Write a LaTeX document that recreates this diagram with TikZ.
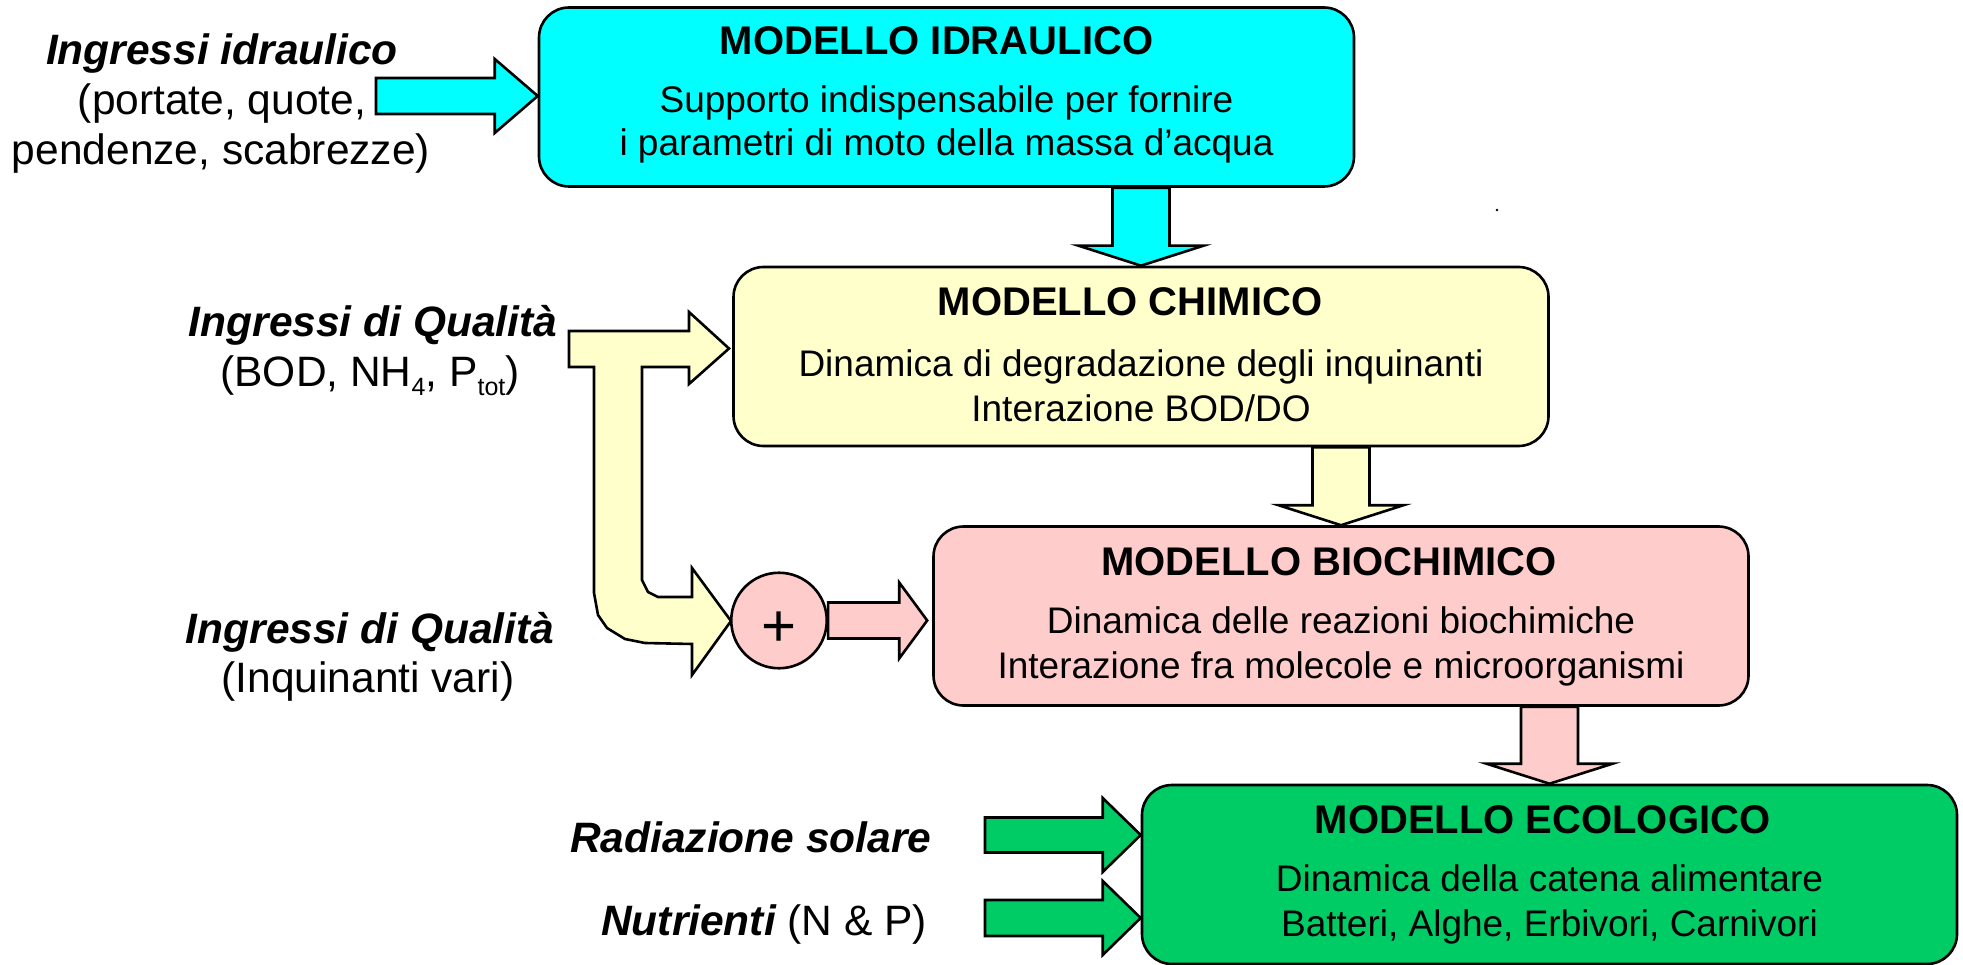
\documentclass[tikz,border=0pt]{standalone}
\usepackage{fontspec}
\setmainfont{Liberation Sans}
\usetikzlibrary{calc,backgrounds}
\definecolor{cyanc}{HTML}{00FFFF}
\definecolor{yelc}{HTML}{FFFFCC}
\definecolor{pinkc}{HTML}{FFCCCC}
\definecolor{greenc}{HTML}{00CC66}
\newcommand\lowsub[1]{\raisebox{-9pt}{\fontsize{25}{25}\selectfont #1}}
% block arrow pointing right: #1 style, #2 start, #3 tip, #4 shaft half, #5 head half, #6 head length
\newcommand\blkright[6]{%
  \draw[#1] let \p1=#2, \p2=#3 in
    (\x1,\y2+#4) -- (\x2-#6,\y2+#4) -- (\x2-#6,\y2+#5) -- (\x2,\y2)
    -- (\x2-#6,\y2-#5) -- (\x2-#6,\y2-#4) -- (\x1,\y2-#4) -- cycle;}
% block arrow pointing down: #2 start (top), #3 tip
\newcommand\blkdown[6]{%
  \draw[#1] let \p1=#2, \p2=#3 in
    (\x2-#4,\y1) -- (\x2-#4,\y2+#6) -- (\x2-#5,\y2+#6) -- (\x2,\y2)
    -- (\x2+#5,\y2+#6) -- (\x2+#4,\y2+#6) -- (\x2+#4,\y1) -- cycle;}
\tikzset{
  model/.style={draw=black, line width=2.6pt, rounded corners=30pt,
    minimum width=815pt, minimum height=179pt, inner sep=0pt},
  blk/.style={draw=black, line width=2.6pt, line join=miter},
  ttl/.style={inner sep=0pt, anchor=base, font=\fontsize{40}{48}\selectfont\bfseries},
  bdy/.style={inner sep=0pt, anchor=base, font=\fontsize{37}{44}\selectfont},
  lbl/.style={inner sep=0pt, anchor=base, font=\fontsize{42.5}{50}\selectfont},
  lblb/.style={lbl, font=\fontsize{42.5}{50}\selectfont\bfseries\itshape},
}
\begin{document}
\begin{tikzpicture}[x=1pt,y=-1pt]
\useasboundingbox (0,0) rectangle (1963,965);
% model boxes
\node[model, fill=cyanc]  (idr)  at (946.5,97)   {};
\node[model, fill=yelc]   (chim) at (1141,356.5) {};
\node[model, fill=pinkc]  (bio)  at (1341,616)   {};
\node[model, fill=greenc] (eco)  at (1549.5,874.5) {};
\node[circle, draw=black, line width=2.6pt, fill=pinkc, minimum size=95.5pt, inner sep=0pt]
  (circ) at (779,620.5) {};
\node[inner sep=0pt, font=\fontsize{60}{64}\selectfont] (plus) at ($(circ.center)+(0,9)$) {+};
% input anchors
\coordinate (inidr) at (376,96);
\coordinate (radin) at (985,835);
\coordinate (nutin) at (985,918);
% connectors
\begin{scope}[on background layer]
  \blkright{blk,fill=cyanc}{(inidr)}{(idr.west |- inidr)}{18pt}{37pt}{43pt}
  \blkdown{blk,fill=cyanc}{(idr.south)}{(chim.north)}{28.5pt}{62.5pt}{20pt}
  \blkdown{blk,fill=yelc}{(chim.south)}{(bio.north)}{28.5pt}{62.5pt}{20pt}
  \blkdown{blk,fill=pinkc}{(bio.south)}{(eco.north)}{28.5pt}{63pt}{20pt}
  \blkright{blk,fill=pinkc}{(circ.east)}{($(bio.west |- circ.east)+(-5,0)$)}{18pt}{38pt}{28pt}
  \blkright{blk,fill=greenc}{(radin)}{(eco.west |- radin)}{17.5pt}{37pt}{38pt}
  \blkright{blk,fill=greenc}{(nutin)}{(eco.west |- nutin)}{18pt}{37pt}{38pt}
  \draw[blk, fill=yelc] (569,331) -- (689,331) -- (689,312) -- (729,348.5) -- (689,384)
    -- (689,367) -- (642,367) -- (642,580) -- (648,592) -- (658,597) -- (692,597)
    -- (692,568) -- (731,621) -- (692,675) -- (692,644) -- (645,643) -- (625,639)
    -- (607,628) -- (598,615) -- (594,593) -- (594,367) -- (569,367) -- cycle;
\end{scope}
\fill (1497,210) circle (1.3);
% box texts
\node[ttl] (idrT)  at ($(idr.north)+(-10,48)$)  {MODELLO IDRAULICO};
\node[bdy] (idrB1) at ($(idr.north)+(0,106)$)   {Supporto indispensabile per fornire};
\node[bdy] (idrB2) at ($(idr.north)+(0,149)$)   {i parametri di moto della massa d’acqua};
\node[ttl] (chimT)  at ($(chim.north)+(-11,50)$) {MODELLO CHIMICO};
\node[bdy] (chimB1) at ($(chim.north)+(0,111)$)  {Dinamica di degradazione degli inquinanti};
\node[bdy] (chimB2) at ($(chim.north)+(0,156)$)  {Interazione BOD/DO};
\node[ttl] (bioT)  at ($(bio.north)+(-12,50)$)  {MODELLO BIOCHIMICO};
\node[bdy] (bioB1) at ($(bio.north)+(0,108.5)$) {Dinamica delle reazioni biochimiche};
\node[bdy] (bioB2) at ($(bio.north)+(0,153.5)$) {Interazione fra molecole e microorganismi};
\node[ttl] (ecoT)  at ($(eco.north)+(-7,50)$)   {MODELLO ECOLOGICO};
\node[bdy] (ecoB1) at ($(eco.north)+(0,108)$)   {Dinamica della catena alimentare};
\node[bdy] (ecoB2) at ($(eco.north)+(0,153)$)   {Batteri, Alghe, Erbivori, Carnivori};
% input labels
\node[lblb] (l1a) at (222,65)  {Ingressi idraulico};
\node[lbl]  (l1b) at (222,115) {(portate, quote,};
\node[lbl]  (l1c) at (221,165) {pendenze, scabrezze)};
\node[lblb] (l2a) at (373,337) {Ingressi di Qualità};
\node[lbl]  (l2b) at (370,387) {(BOD, NH\lowsub{4}, P\lowsub{tot})};
\node[lblb] (l3a) at (370,643) {Ingressi di Qualità};
\node[lbl]  (l3b) at (368,692) {(Inquinanti vari)};
\node[lblb, anchor=base west] (l4) at (570,852) {Radiazione solare};
\node[lbl, anchor=base west]  (l5) at (601,935) {{\bfseries\itshape Nutrienti} (N \& P)};
\end{tikzpicture}
\end{document}
